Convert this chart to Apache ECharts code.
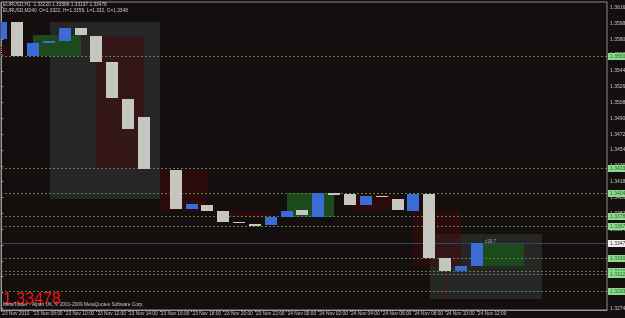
<!DOCTYPE html>
<html><head><meta charset="utf-8">
<script src="https://cdn.jsdelivr.net/npm/echarts@6/dist/echarts.min.js"></script>
<style>html,body{margin:0;padding:0;background:#140e0e;}#c{width:625px;height:318px;}</style>
</head><body><div id="c"></div>
<script>
// ---- DATA ----
// H1 bars; index 0 = 23 Nov 2010 06:00 (index 10 not visible)
const candleIndex = [0,1,2,3,4,5,6,7,8,9,11,12,13,14,15,16,17,18,19,20,21,22,23,24,25,26,27,28,29,30];
const candleOpen  = [1.35797,1.35990,1.35604,1.35757,1.35774,1.35922,1.35831,1.35536,1.35115,1.34911,
                     1.34308,1.33865,1.33911,1.33842,1.33723,1.33695,1.33683,1.33774,1.33854,1.33774,
                     1.34047,1.34036,1.33911,1.34013,1.33979,1.33842,1.34036,1.33308,1.33161,1.33220];
const candleClose = [1.35990,1.35604,1.35752,1.35780,1.35922,1.35842,1.35536,1.35126,1.34774,1.34320,
                     1.33865,1.33922,1.33842,1.33717,1.33712,1.33678,1.33774,1.33842,1.33797,1.34047,
                     1.34028,1.33911,1.34013,1.34001,1.33854,1.34036,1.33308,1.33161,1.33217,1.33478];
// M240 overlay boxes (kind: 0 range, 1 bull body, 2 bear body, 3 bear wick)
const boxStart  = [3.07, 27.05, -2, 2, 6, 10, 14, 18, 22, 26, 30, 28.1];
const boxEnd    = [10.01, 34.11, 1, 5, 9, 13, 17, 21, 25, 29, 33, 28.1];
const boxTop    = [1.35990, 1.33581, 1.35706, 1.35842, 1.35831, 1.34320, 1.33842, 1.34047, 1.34036, 1.33842, 1.33478, 1.33217];
const boxBottom = [1.33979, 1.32842, 1.35604, 1.35604, 1.34320, 1.33842, 1.33774, 1.33774, 1.33854, 1.33217, 1.33220, 1.32842];
const boxKind   = [0, 0, 2, 1, 2, 2, 2, 1, 2, 2, 1, 3];
// horizontal levels
const levels = [1.35604, 1.34331, 1.34047, 1.33786, 1.33672, 1.33308, 1.33161, 1.33126, 1.32933];
const bidPrice = 1.33478;
// axis ticks
const priceTicks = [1.32740,1.32920,1.33100,1.33280,1.33460,1.33640,1.33820,1.34000,1.34180,1.34360,
                    1.34540,1.34720,1.34900,1.35080,1.35260,1.35440,1.35620,1.35800,1.35980,1.36160];
const timeTickIndex = [0,2,4,6,8,10,12,14,16,18,20,22,24,26,28,30];
const timeLabels = ['23 Nov 2010','23 Nov 08:00','23 Nov 10:00','23 Nov 12:00','23 Nov 14:00','23 Nov 16:00',
                    '23 Nov 18:00','23 Nov 20:00','23 Nov 22:00','24 Nov 00:00','24 Nov 02:00','24 Nov 04:00',
                    '24 Nov 06:00','24 Nov 08:00','24 Nov 10:00','24 Nov 12:00'];
const titleLine1 = 'EURUSD,H1  1.33220 1.33586 1.33197 1.33478';
const titleLine2 = 'EURUSD,M240  O=1.3322, H=1.3359, L=1.332, C=1.3348';
const copyright = 'MetaTrader - Alpari UK, \u00a9 2001-2009 MetaQuotes Software Corp.';
const timerText = 'c30.7';

// ---- CHART ----
const FONT = 'Liberation Sans';
const BULL = '#3a6bd6', BEAR = '#c6c6c1';
function checker(color){
  const cv = document.createElement('canvas'); cv.width = 2; cv.height = 2;
  const g = cv.getContext('2d'); g.fillStyle = color; g.fillRect(0,0,1,1); g.fillRect(1,1,1,1);
  return {image: cv, repeat: 'repeat'};
}
const redPat = checker('#420707');
const chart = echarts.init(document.getElementById('c'), null, {renderer:'canvas'});
function csRect(params){ const c = params.coordSys; return {x:c.x, y:c.y, width:c.width, height:c.height}; }

const candleData = candleIndex.map((x,k)=>[x, candleOpen[k], candleClose[k]]);
const boxData = boxStart.map((s,k)=>[s, boxEnd[k], boxTop[k], boxBottom[k], boxKind[k]]);
const levelData = levels.map(v=>[0, v, 0]).concat([[0, bidPrice, 1]]);

chart.setOption({
  backgroundColor:'#140e0e',
  animation:false,
  grid:{left:1, right:18, top:2, bottom:8, show:true, borderColor:'#8c8c8c', borderWidth:1,
        containLabel:false, outerBoundsMode:'none'},
  xAxis:{type:'value', min:-0.019, max:38.21,
    axisLine:{show:true, lineStyle:{color:'#9c9c9c'}},
    axisTick:{show:true, customValues:timeTickIndex, length:2, lineStyle:{color:'#9c9c9c'}},
    axisLabel:{customValues:timeTickIndex, formatter:v=>timeLabels[Math.round(v/2)],
      color:'#c4c4c4', fontSize:4.8, fontFamily:FONT, align:'left', margin:1, padding:[0,0,0,1]},
    splitLine:{show:false}},
  yAxis:{type:'value', position:'right', min:1.32722, max:1.36222,
    axisLine:{show:true, lineStyle:{color:'#9c9c9c'}},
    axisTick:{show:true, customValues:priceTicks, length:2, lineStyle:{color:'#9c9c9c'}},
    axisLabel:{customValues:priceTicks, formatter:v=>v.toFixed(5), color:'#c4c4c4', fontSize:5, fontFamily:FONT, margin:3},
    splitLine:{show:false}},
  series:[
    {type:'custom', z:1, data:boxData, silent:true,
     renderItem:(params, api)=>{
       const p1 = api.coord([api.value(0), api.value(2)]);
       const p2 = api.coord([api.value(1), api.value(3)]);
       const kind = api.value(4);
       if(kind===3){
         const x = Math.round(p1[0]) + 0.5;
         return {type:'line', shape:{x1:x, y1:Math.round(p1[1]), x2:x, y2:Math.round(p2[1])},
                 style:{stroke:'#6a0c0c', lineWidth:1, lineDash:[1,1]}};
       }
       const sh = echarts.graphic.clipRectByRect({x:Math.round(p1[0]), y:Math.round(p1[1]),
         width:Math.round(p2[0])-Math.round(p1[0]), height:Math.round(p2[1])-Math.round(p1[1])}, csRect(params));
       if(!sh) return;
       const fill = kind===0 ? '#262626' : (kind===1 ? '#1c4a1c' : redPat);
       return {type:'rect', shape:sh, style:{fill:fill}};
     }},
    {type:'custom', z:2, data:levelData, silent:true,
     renderItem:(params, api)=>{
       const cs = params.coordSys;
       const v = api.value(1), bid = api.value(2) === 1;
       const y = Math.round(api.coord([0, v])[1]) + 0.5;
       const right = cs.x + cs.width;
       return {type:'group', children:[
         {type:'line', shape:{x1:cs.x, y1:y, x2:right, y2:y},
          style:{stroke: bid ? '#2e4862' : '#55853f', lineWidth:1, lineDash: bid ? null : [2,2]}},
         {type:'rect', shape:{x:right+1, y:y-3.5, width:18, height:7},
          style:{fill: bid ? '#f0f0f0' : '#8ddc8d'}},
         {type:'text', x:right+3, y:y, style:{text:v.toFixed(5), fill: bid ? '#333333' : '#2f5f2f',
          font:'5px '+FONT, verticalAlign:'middle'}}
       ]};
     }},
    {type:'custom', z:3, data:candleData, silent:true,
     renderItem:(params, api)=>{
       const i = api.value(0), o = api.value(1), c = api.value(2);
       const top = api.coord([i, Math.max(o,c)]);
       const bot = api.coord([i, Math.min(o,c)]);
       const w = Math.round(api.size([1,0])[0]*0.76);
       const x = Math.round(top[0]-w/2), y = Math.round(top[1]);
       const h = Math.max(1, Math.round(bot[1])-y);
       const sh = echarts.graphic.clipRectByRect({x:x, y:y, width:w, height:h}, csRect(params));
       if(!sh) return;
       return {type:'rect', shape:sh, style:{fill: c>=o ? BULL : BEAR}};
     }}
  ],
  graphic:[
    {type:'text', left:3, top:2.5, z:10, style:{text:titleLine1, fill:'#c8c8c8', font:'4.8px '+FONT}},
    {type:'text', left:3, top:8.2, z:10, style:{text:titleLine2, fill:'#c8c8c8', font:'4.8px '+FONT}},
    {type:'text', x:3, y:299.5, z:10, style:{text:'1.33478', fill:'#ff1010', font:'16px '+FONT, verticalAlign:'middle'}},
    {type:'text', x:3, y:304.8, z:11, style:{text:copyright, fill:'#c8c8c8', font:'4.8px '+FONT, verticalAlign:'middle'}},
    {type:'text', x:485, y:242, z:10, style:{text:timerText, fill:'#a8a8a8', font:'4.5px '+FONT, verticalAlign:'middle'}}
  ]
});
</script></body></html>
